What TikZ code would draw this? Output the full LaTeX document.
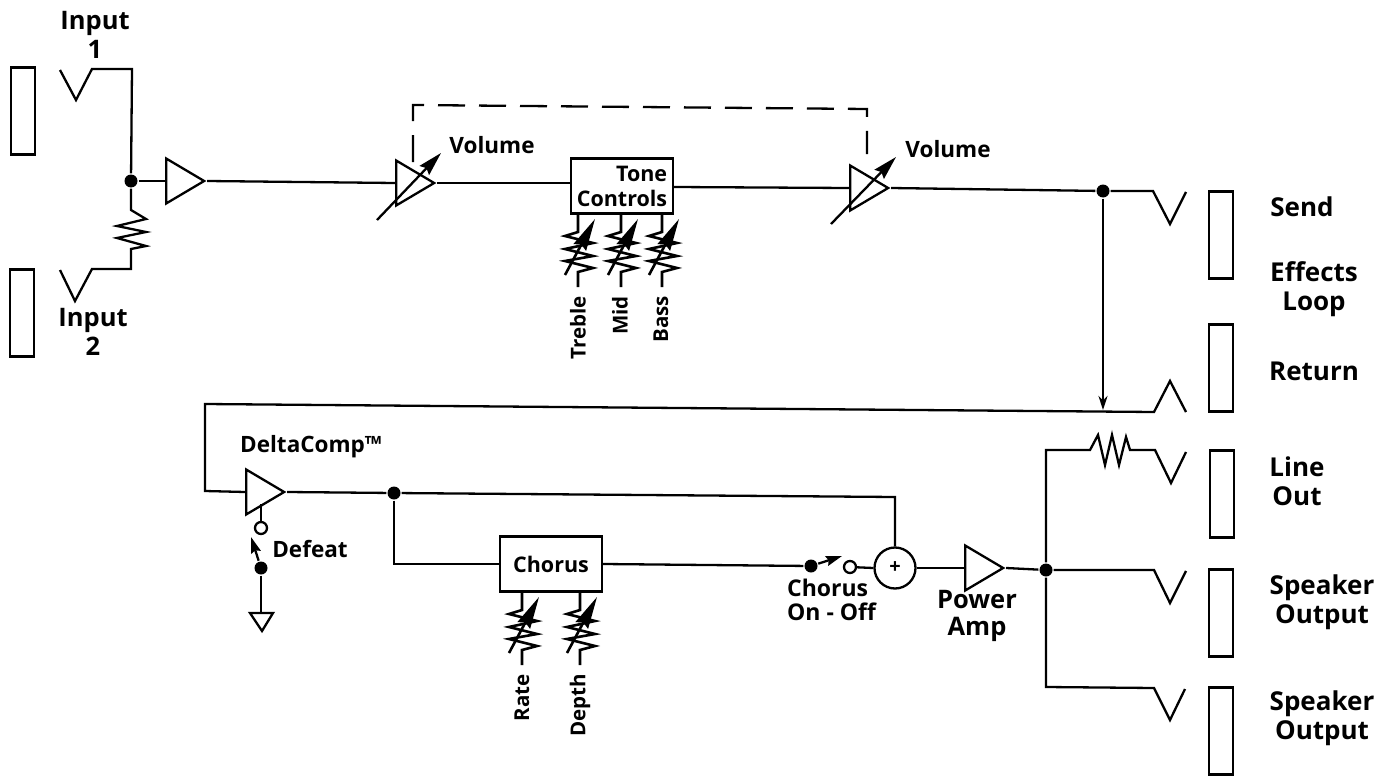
\documentclass[tikz,border=0pt]{standalone}
\usepackage{fontspec}
\setmainfont{Open Sans}
\usepackage{tikz}
\usetikzlibrary{shapes.geometric,arrows.meta,positioning,calc}

\begin{document}
\begin{tikzpicture}[
    x=1pt, y=-1pt,
    line width=2.3pt,
    jackbox/.style={rectangle, draw, minimum width=24pt, minimum height=87pt, inner sep=0pt},
    ampbox/.style={isosceles triangle, isosceles triangle stretches, draw, shape border rotate=0, minimum width=45pt, minimum height=38pt, inner sep=0pt, anchor=lower side},
    fxbox/.style={rectangle, draw, minimum width=102pt, minimum height=55pt, inner sep=0pt, font=\bfseries\fontsize{21.5}{25}\selectfont},
    junction/.style={circle, fill=black, minimum size=13pt, inner sep=0pt},
    opendot/.style={circle, draw, fill=white, minimum size=12pt, inner sep=0pt},
    label/.style={font=\bfseries\fontsize{#1}{29}\selectfont, align=center, inner sep=0pt},
    rotlabel/.style={font=\bfseries\fontsize{20.5}{24}\selectfont, rotate=90, anchor=east, inner sep=0pt},
    arrow/.style={-{Stealth[length=24pt, width=13pt, inset=3pt]}},
    smallarrow/.style={-{Stealth[length=16pt, width=10pt, inset=2pt]}},
    pot/.pic={
        \draw[line width=2.6pt] (0,0) -- (0,18) -- (-13,22) -- (15,29) -- (-13,35) -- (15,42) -- (-13,47) -- (15,54) -- (0,58) -- (0,73);
        \draw[line width=2.6pt, -{Stealth[length=32pt, width=14pt, inset=3pt]}] (-13,61) -- (17,5);
    }
]
    \useasboundingbox (0,0) rectangle (1390,776);

    % Jack panels
    \node[jackbox] (panelA) at (23,111) {};
    \node[jackbox] (panelB) at (22,313) {};
    \node[jackbox] (send) at (1221,235) {};
    \node[jackbox] (return) at (1221,368) {};
    \node[jackbox] (lineout) at (1222,494) {};
    \node[jackbox] (speakerA) at (1221,613) {};
    \node[jackbox] (speakerB) at (1221,731) {};

    % Amplifiers
    \node[ampbox] (ampA) at (165,181) {};
    \node[ampbox] (vcaA) at (395,183) {};
    \node[ampbox] (vcaB) at (849,188) {};
    \node[ampbox] (comp) at (245,492) {};
    \node[ampbox] (power) at (964,568) {};

    % Blocks
    \node[fxbox, align=right] (tone) at (622,186) {Tone\\Controls};
    \node[fxbox] (chorus) at (551,564) {Chorus};
    \node[circle, draw, minimum size=41pt, inner sep=0pt, font=\bfseries\fontsize{20}{24}\selectfont] (sum) at (895,568) {+};

    % Junctions and switch contacts
    \node[junction] (juncA) at (131,181) {};
    \node[junction] (juncB) at (1103,191) {};
    \node[junction] (juncC) at (394,493) {};
    \node[junction] (juncD) at (1046,570) {};
    \node[junction] (defeatdot) at (261,568) {};
    \node[junction] (chorusdot) at (811,566) {};
    \node[opendot] (defeatopen) at (261,528) {};
    \node[opendot] (chorusopen) at (850,567) {};
    \coordinate (defeattip) at (251,537);
    \coordinate (chorustip) at (842,556);
    \coordinate (returnend) at (1103,410);

    % Input side
    \draw (60,70) -- (76,100) -- (92,69) -- (132,69) -- (juncA);
    \draw (juncA) -- (131,210) -- (146,219) -- (117,226) -- (146,232) -- (117,238) -- (146,246) -- (131,249) -- (131,269) -- (92,269) -- (75,301) -- (60,270);
    \draw (juncA) -- (ampA.lower side);
    \draw (ampA.apex) -- (vcaA.lower side);
    \draw (vcaA.apex) -- (tone.west |- vcaA.apex);
    \draw (tone.east |- 0,187) -- (vcaB.lower side);
    \draw (vcaB.apex) -- (juncB);
    \draw (juncB) -- (1153,191) -- (1170,224) -- (1186,192);

    % Gain knobs and their link
    \draw[arrow] (377,220) -- (441,153);
    \draw[arrow] (831,224) -- (896,157);
    \draw[dashed, dash pattern=on 27pt off 14pt] (413,162) -- (413,105) -- (867,109) -- (867,154);

    % Effects loop
    \draw[-{Stealth[length=14pt, width=9pt]}] (juncB) -- (returnend);
    \draw (1186,412) -- (1170,381) -- (1154,412) -- (205,404) -- (205,491) -- (comp.lower side);

    % Second stage
    \draw (comp.apex) -- (juncC);
    \draw (juncC) -- (895,497) -- (sum.north);
    \draw (juncC) |- (chorus.west);
    \draw (chorus.east) -- (chorusdot);
    \draw (chorusopen) -- (sum.west);
    \draw (sum.east) -- (power.lower side);
    \draw (power.apex) -- (juncD);
    \draw[smallarrow] (chorusdot) -- (chorustip);

    % Defeat switch
    \draw (261,504) -- (defeatopen);
    \draw[smallarrow] (defeatdot) -- (defeattip);
    \coordinate (gnd) at (261,613);
    \draw (defeatdot) -- (gnd);
    \draw (gnd) -- (250,613) -- (262,631) -- (273,613) -- cycle;

    % Outputs
    \draw (juncD) -- (1046,450) -- (1090,450) -- (1098,435) -- (1105,465) -- (1112,435) -- (1119,465) -- (1126,437) -- (1130,450) -- (1155,450) -- (1171,483) -- (1186,452);
    \draw (juncD) -- (1154,570) -- (1170,603) -- (1186,571);
    \draw (juncD) -- (1046,687) -- (1154,688) -- (1170,720) -- (1185,689);

    % Pots
    \pic at (578,214) {pot};
    \pic at (621,214) {pot};
    \pic at (662,214) {pot};
    \pic at (522,592) {pot};
    \pic at (580,592) {pot};

    % Labels
    \node[label=25.5] (inputA) at (95,35) {Input\\1};
    \node[label=25.5] (inputB) at (93,332) {Input\\2};
    \node[label=22.5] (volA) at (492,145) {Volume};
    \node[label=22.5] (volB) at (948,149) {Volume};
    \node[rotlabel] (treble) at (578,295) {Treble};
    \node[rotlabel] (mid) at (620,295) {Mid};
    \node[rotlabel] (bass) at (661,295) {Bass};
    \node[rotlabel] (rate) at (522,673) {Rate};
    \node[rotlabel] (depth) at (580,673) {Depth};
    \node[label=22.5] (deltacomp) at (311,447) {DeltaComp™};
    \node[label=22.5] (defeat) at (310,549) {Defeat};
    \node[label=23, align=left, anchor=west] (chorussw) at (786,600) {Chorus\\[-5pt]On - Off};
    \node[label=25.5] (poweramp) at (977,616) {Power\\[-2pt]Amp};
    \node[label=26] (sendtxt) at (1302,207) {Send};
    \node[label=26] (effects) at (1314,289) {Effects\\Loop};
    \node[label=26] (returntxt) at (1314,371) {Return};
    \node[label=26] (linetxt) at (1297,481) {Line\\Out};
    \node[label=26] (speakerAtxt) at (1322,602) {Speaker\\Output};
    \node[label=26] (speakerBtxt) at (1322,718) {Speaker\\Output};

\end{tikzpicture}
\end{document}
